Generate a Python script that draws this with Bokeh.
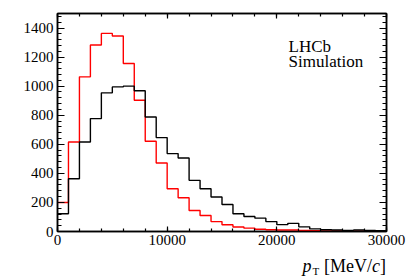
from bokeh.plotting import figure
from bokeh.models import Range1d, LinearAxis, SingleIntervalTicker, Label, NumeralTickFormatter
from bokeh.embed import file_html
from bokeh.resources import INLINE

# bin edges in MeV/c (30 bins of 1000)
pt_edges = list(range(0, 30001, 1000))

red_counts = [200, 616, 1064, 1283, 1363, 1345, 1156, 903, 621, 471,
              294, 232, 145, 110, 68, 46, 31, 23, 15, 12,
              10, 10, 8, 6, 4, 3, 3, 2, 2, 1]
black_counts = [122, 363, 616, 777, 954, 995, 1000, 968, 788, 646,
                536, 506, 352, 294, 237, 186, 122, 103, 92, 68,
                47, 56, 32, 18, 12, 10, 8, 10, 7, 5]

FONT = "Liberation Serif"

p = figure(width=407, height=276, output_backend="svg", toolbar_location=None,
           x_range=Range1d(0, 30000), y_range=Range1d(0, 1500),
           min_border_left=57, min_border_right=21, min_border_top=13, min_border_bottom=45)
p.grid.visible = False
p.outline_line_color = "black"
p.outline_line_width = 1.5
p.background_fill_color = "white"

xt = SingleIntervalTicker(interval=10000, num_minor_ticks=5)
yt = SingleIntervalTicker(interval=200, num_minor_ticks=5)

def style_axis(ax, ticker, maj, mnr, labels=True, font=FONT):
    ax.ticker = ticker
    ax.axis_line_color = "black"
    ax.axis_line_width = 1.5
    ax.major_tick_in = maj
    ax.major_tick_out = 0
    ax.minor_tick_in = mnr
    ax.minor_tick_out = 0
    ax.major_tick_line_width = 1.2
    ax.minor_tick_line_width = 1.2
    ax.major_tick_line_color = "black"
    ax.minor_tick_line_color = "black"
    if labels:
        ax.formatter = NumeralTickFormatter(format="0")
        ax.major_label_text_font = font
        ax.major_label_text_font_size = "15px"
        ax.major_label_text_color = "black"
    else:
        ax.major_label_text_font_size = "0px"
        ax.major_label_standoff = 0

style_axis(p.xaxis[0], xt, 5, 3)
p.xaxis[0].major_label_standoff = 3
style_axis(p.yaxis[0], yt, 7, 4)
p.yaxis[0].major_label_standoff = 4

top = LinearAxis()
style_axis(top, SingleIntervalTicker(interval=10000, num_minor_ticks=5), 5, 3, labels=False)
p.add_layout(top, "above")
right = LinearAxis()
style_axis(right, SingleIntervalTicker(interval=200, num_minor_ticks=5), 7, 4, labels=False)
p.add_layout(right, "right")

p.step(x=pt_edges, y=red_counts + [red_counts[-1]], mode="after", line_color="#ff0000", line_width=1.4)
p.step(x=pt_edges, y=black_counts + [black_counts[-1]], mode="after", line_color="black", line_width=1.4)

# axis title pieces: p_T [MeV/c]  (placed in side panels so they are not clipped)
def lab(x, y, text, size, style="normal", place=None):
    L = Label(x=x, y=y, text=text, text_font=FONT, text_font_size=size,
              text_font_style=style, text_color="black",
              text_baseline="alphabetic", text_align="left")
    if place is None:
        p.add_layout(L)
    else:
        p.add_layout(L, place)

lab(22342, -234, "p", "18px", "italic", place="left")
lab(23253, -270, "T", "11px", place="left")
lab(24302, -234, "[MeV/", "18px", place="below")
lab(28679, -234, "c", "18px", "italic", place="right")
lab(29409, -234, "]", "18px", place="right")

lab(21065, 1273, "LHCb", "17px")
lab(21065, 1169, "Simulation", "17px")

open("out.html", "w").write(file_html(p, INLINE))
